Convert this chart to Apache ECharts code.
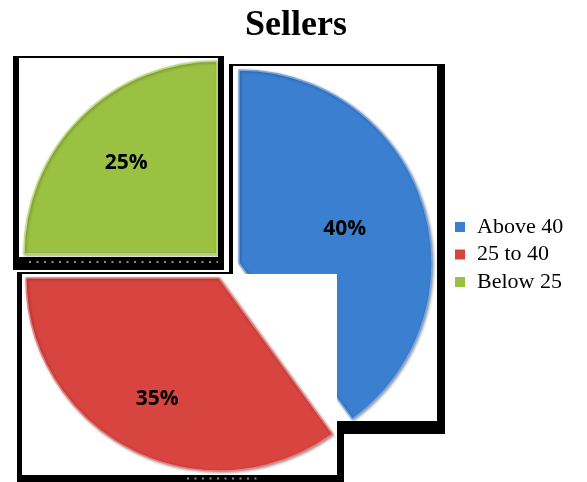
<!DOCTYPE html>
<html>
<head>
<meta charset="utf-8">
<script src="https://cdn.jsdelivr.net/npm/echarts@6/dist/echarts.min.js"></script>
<style>
  html, body { margin: 0; padding: 0; background: #fff; }
  #chart { width: 587px; height: 482px; }
</style>
</head>
<body>
<div id="chart"></div>
<script>
// Seller age groups and their share (percent)
const categories = ['Above 40', '25 to 40', 'Below 25'];
const shares = [40, 35, 25];

// Look of each sector
const sliceColors = ['#3b7fd1', '#d8443f', '#9ac142'];
const sliceEdges = ['#74a6e6', '#ee7d79', '#bfdc7c'];

// Each sector is drawn as its own piece, on its own framed card
const R = 193;
const slicePlacement = [
  { center: [239, 263], labelR: 0.56, z: 2 },
  { center: [219, 278], labelR: 0.69, z: 6 },
  { center: [217, 254], labelR: 0.65, z: 4 }
];

const total = shares.reduce((a, b) => a + b, 0);
function bisector(i) {
  let before = 0;
  for (let k = 0; k < i; k++) before += shares[k];
  return (before + shares[i] / 2) / total * 2 * Math.PI;
}

const series = categories.map((_, own) => {
  const place = slicePlacement[own];
  const a = bisector(own);
  const shift = (place.labelR - 0.5) * R;
  return {
    type: 'pie',
    z: place.z,
    center: place.center,
    radius: R,
    startAngle: 90,
    clockwise: true,
    silent: true,
    animation: false,
    avoidLabelOverlap: false,
    labelLine: { show: false },
    label: { show: false },
    labelLayout: (p) => p.dataIndex === own
      ? { dx: Math.sin(a) * shift, dy: -Math.cos(a) * shift }
      : {},
    data: categories.map((name, j) => ({
      name,
      value: shares[j],
      itemStyle: j === own
        ? {
            color: sliceColors[j],
            borderColor: sliceEdges[j],
            borderWidth: 1.5,
            shadowBlur: 3,
            shadowOffsetX: 1,
            shadowOffsetY: 1,
            shadowColor: 'rgba(0,0,0,0.35)'
          }
        : { color: sliceColors[j], opacity: 0, borderWidth: 0 },
      label: j === own
        ? {
            show: true,
            position: 'inside',
            formatter: (p) => p.value + '%',
            color: '#000',
            fontFamily: 'Open Sans',
            fontWeight: 'bold',
            fontSize: 21
          }
        : { show: false }
    }))
  };
});

// Framed white cards behind the sectors
function rect(x, y, w, h, fill, z) {
  return { type: 'rect', z, shape: { x, y, width: w, height: h }, style: { fill } };
}
function dots(x1, y, x2, z) {
  return {
    type: 'line', z,
    shape: { x1, y1: y, x2, y2: y },
    style: { stroke: '#8c8c8c', lineWidth: 2, lineDash: [2, 5.5] }
  };
}
const frames = [
  // card under the blue sector
  rect(229, 64, 216, 370, '#000', 1),
  rect(233, 66, 204, 355, '#fff', 1.5),
  // card under the green sector
  rect(13, 56, 211, 214, '#000', 3),
  rect(19, 58, 199, 199, '#fff', 3.5),
  dots(29, 262, 218, 3.6),
  // card under the red sector
  rect(17, 272, 216, 2, '#000', 5),
  rect(17, 272, 5, 210, '#000', 5),
  rect(17, 475, 327, 7, '#000', 5),
  rect(337, 421, 7, 61, '#000', 5),
  rect(22, 274, 315, 201, '#fff', 5.5),
  dots(187, 478.5, 258, 5.6)
];

const chart = echarts.init(document.getElementById('chart'), null, { renderer: 'canvas' });
chart.setOption({
  backgroundColor: '#fff',
  animation: false,
  title: {
    text: 'Sellers',
    left: 245,
    top: 8,
    padding: 0,
    textStyle: {
      fontFamily: 'Liberation Serif',
      fontWeight: 'bold',
      fontSize: 36,
      color: '#000'
    }
  },
  legend: {
    orient: 'vertical',
    left: 455,
    top: 216,
    padding: 0,
    icon: 'rect',
    itemWidth: 10,
    itemHeight: 10,
    itemGap: 5.5,
    selectedMode: false,
    textStyle: {
      fontFamily: 'Liberation Serif',
      fontSize: 22,
      lineHeight: 22,
      color: '#000',
      padding: [0, 0, 0, 7]
    },
    data: categories.map((name, i) => ({
      name,
      itemStyle: { color: sliceColors[i], opacity: 1, borderWidth: 0 }
    }))
  },
  graphic: frames,
  series
});
</script>
</body>
</html>
